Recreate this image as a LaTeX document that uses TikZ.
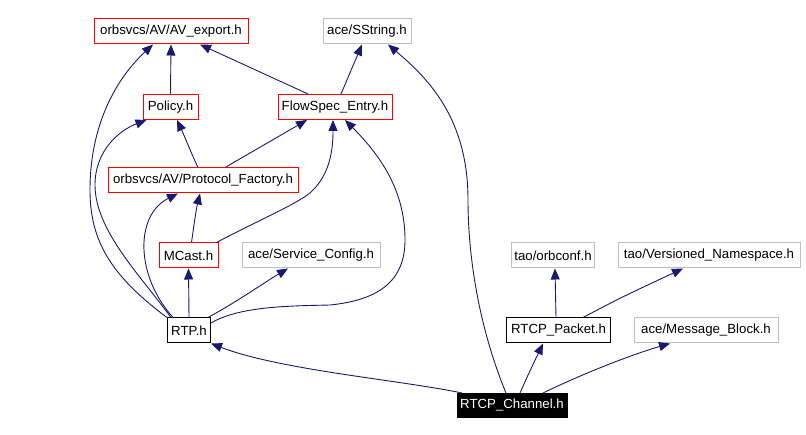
\documentclass[tikz,border=0pt]{standalone}
\usepackage{fontspec}
\setmainfont{Liberation Sans}
\usetikzlibrary{arrows.meta}
\definecolor{edgeblue}{HTML}{191970}
\definecolor{boxgray}{HTML}{BFBFBF}
\definecolor{boxred}{HTML}{FF0000}
\tikzset{
  hbox/.style={draw, line width=1bp, inner sep=0pt, minimum height=25bp, font=\fontsize{13.3}{15}\selectfont, text=black},
  redbox/.style={hbox, draw=boxred},
  graybox/.style={hbox, draw=boxgray},
  blackbox/.style={hbox, draw=black},
  rootbox/.style={hbox, draw=black, fill=black, text=white},
  dep/.style={draw=edgeblue, line width=0.9bp, -{Triangle[length=11bp,width=9bp]}, fill=none},
}
\begin{document}
\begin{tikzpicture}[x=1bp,y=-1bp]
\useasboundingbox (0,0) rectangle (806,435);
\node[redbox, minimum width=154bp] (av) at (171,31.5) {orbsvcs/AV/AV\_export.h};
\node[graybox, minimum width=88bp] (ss) at (367,31.5) {ace/SString.h};
\node[redbox, minimum width=55bp] (pol) at (170.5,107) {Policy.h};
\node[redbox, minimum width=114bp] (fs) at (335,107) {FlowSpec\_Entry.h};
\node[redbox, minimum width=190bp] (pf) at (203,180.5) {orbsvcs/AV/Protocol\_Factory.h};
\node[redbox, minimum width=59bp] (mc) at (188.5,255.5) {MCast.h};
\node[graybox, minimum width=138bp] (sc) at (311,255.5) {ace/Service\_Config.h};
\node[blackbox, minimum width=43bp] (rtp) at (189,330.5) {RTP.h};
\node[graybox, minimum width=83bp] (oc) at (553,255.5) {tao/orbconf.h};
\node[graybox, minimum width=182bp] (vn) at (709,255.5) {tao/Versioned\_Namespace.h};
\node[blackbox, minimum width=104bp] (rp) at (558.5,330.5) {RTCP\_Packet.h};
\node[graybox, minimum width=144bp] (mb) at (706,330.5) {ace/Message\_Block.h};
\node[rootbox, minimum width=110bp, minimum height=24bp] (ch) at (512,405.5) {RTCP\_Channel.h};

% edges (includer -> included)
\draw[dep] (pol.north) -- (av.south);
\draw[dep] ([xshift=-27bp]fs.north) -- ([xshift=29bp]av.south);
\draw[dep] ([xshift=6bp]fs.north) -- ([xshift=-5bp]ss.south);
\draw[dep] ([xshift=-5bp]pf.north) .. controls (192,155) and (184,135) .. ([xshift=6.5bp]pol.south);
\draw[dep] ([xshift=22bp]pf.north) -- ([xshift=-28bp]fs.south);
\draw[dep] ([xshift=3bp]mc.north) .. controls (194,225) and (196,210) .. ([xshift=-3bp]pf.south);
\draw[dep] ([xshift=28bp]mc.north) .. controls (255,222) and (295,205) .. (310,193) .. controls (330,175) and (333,150) .. ([xshift=-2bp]fs.south);
\draw[dep] (rtp.north) -- (mc.south);
\draw[dep] ([xshift=19bp]rtp.north) .. controls (240,300) and (265,282) .. ([xshift=-23bp]sc.south);
\draw[dep] ([xshift=-16bp]rtp.north) .. controls (135,275) and (135,215) .. ([xshift=-25bp]pf.south);
\draw[dep] ([xshift=-18bp]rtp.north) .. controls (140,275) and (95,230) .. (95,185) .. controls (95,150) and (120,130) .. ([xshift=-24bp]pol.south);
\draw[dep] (rtp.north west) .. controls (110,275) and (90,240) .. (90,190) .. controls (90,120) and (120,75) .. ([xshift=-18bp]av.south);
\draw[dep] ([yshift=7.5bp]rtp.east) .. controls (240,306) and (290,306) .. (330,305) .. controls (380,300) and (405,280) .. (405,240) .. controls (405,195) and (385,160) .. ([xshift=10bp]fs.south);
\draw[dep] ([xshift=-50bp]ch.north) .. controls (400,380) and (280,370) .. (rtp.south east);
\draw[dep] ([xshift=-6bp]ch.north) .. controls (480,330) and (468,260) .. (468,200) .. controls (468,120) and (430,80) .. ([xshift=21bp]ss.south);
\draw[dep] ([xshift=8bp]ch.north) .. controls (528,375) .. ([xshift=-15.5bp]rp.south);
\draw[dep] ([xshift=31bp]ch.north) .. controls (580,375) and (630,355) .. ([xshift=-36bp]mb.south);
\draw[dep] ([xshift=-2.5bp]rp.north) -- ([xshift=2bp]oc.south);
\draw[dep] ([xshift=24.5bp]rp.north) .. controls (620,298) .. ([xshift=-26bp]vn.south);
\end{tikzpicture}
\end{document}
